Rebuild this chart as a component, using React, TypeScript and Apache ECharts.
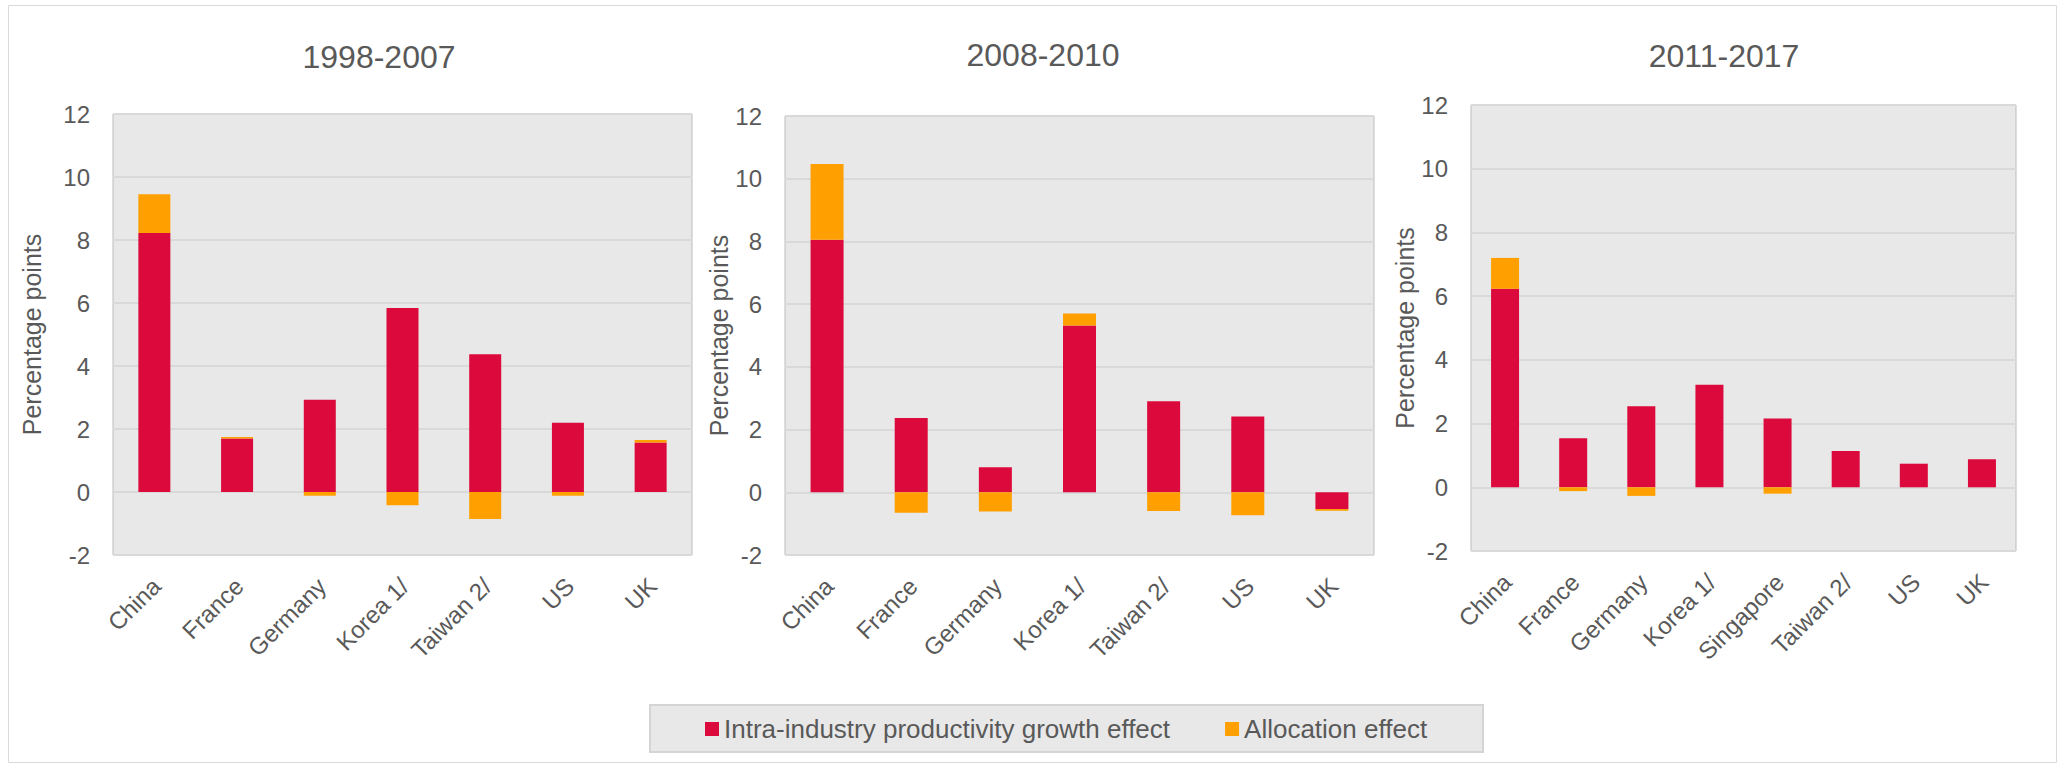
import React, { useEffect, useRef } from "react";
import * as echarts from "echarts";

const periods = ["1998-2007", "2008-2010", "2011-2017"];
const legendNames = ["Intra-industry productivity growth effect", "Allocation effect"];

const categories1 = ["China", "France", "Germany", "Korea 1/", "Taiwan 2/", "US", "UK"];
const intra1 = [8.22, 1.7, 2.93, 5.84, 4.37, 2.2, 1.57];
const alloc1 = [1.23, 0.05, -0.12, -0.42, -0.86, -0.12, 0.08];

const categories2 = ["China", "France", "Germany", "Korea 1/", "Taiwan 2/", "US", "UK"];
const intra2 = [8.05, 2.37, 0.8, 5.32, 2.9, 2.42, -0.53];
const alloc2 = [2.42, -0.65, -0.61, 0.38, -0.6, -0.73, -0.06];

const categories3 = ["China", "France", "Germany", "Korea 1/", "Singapore", "Taiwan 2/", "US", "UK"];
const intra3 = [6.23, 1.54, 2.54, 3.22, 2.16, 1.14, 0.74, 0.88];
const alloc3 = [0.97, -0.12, -0.27, 0, -0.2, 0, 0, 0];

const yMin = -2;
const yMax = 12;
const yInterval = 2;

const RED = "#DC0A3C";
const ORANGE = "#FFA000";
const TEXT = "#595959";
const FONT = "'Liberation Sans', Arial, sans-serif";

const panels = [
  { cats: categories1, intra: intra1, alloc: alloc1, left: 113, top: 114, width: 579, height: 441, tx: 379, ty: 57, nameGap: 69, barWidth: 32 },
  { cats: categories2, intra: intra2, alloc: alloc2, left: 785, top: 116, width: 589, height: 439, tx: 1043, ty: 55, nameGap: 51, barWidth: 33 },
  { cats: categories3, intra: intra3, alloc: alloc3, left: 1471, top: 105, width: 545, height: 446, tx: 1724, ty: 56, nameGap: 53, barWidth: 28 },
];

const LABEL_SHIFT = 2;

export default function App() {
  const ref = useRef<HTMLDivElement>(null);
  useEffect(() => {
    const chart = echarts.init(ref.current as HTMLDivElement, null, { renderer: "svg" });
    const n = panels.length;
    const grid: any[] = panels.map((p) => ({
      left: p.left,
      top: p.top,
      width: p.width,
      height: p.height,
      show: true,
      backgroundColor: "#E8E8E8",
      borderColor: "#BDBDBD",
      borderWidth: 1,
      containLabel: false,
    }));
    panels.forEach((p) => {
      grid.push({
        left: p.left + LABEL_SHIFT,
        top: p.top,
        width: p.width,
        height: p.height,
        show: false,
        containLabel: false,
      });
    });
    const xAxis: any[] = panels.map((p, i) => ({
      type: "category",
      gridIndex: i,
      data: p.cats,
      axisLine: { show: false },
      axisTick: { show: false },
      splitLine: { show: false },
      axisLabel: { show: false },
    }));
    panels.forEach((p, i) => {
      xAxis.push({
        type: "category",
        gridIndex: n + i,
        data: p.cats,
        axisLine: { show: false },
        axisTick: { show: false },
        splitLine: { show: false },
        axisLabel: { rotate: 45, interval: 0, color: TEXT, fontSize: 24, fontFamily: FONT, margin: 27 },
      });
    });
    const yAxis: any[] = panels.map((p, i) => ({
      type: "value",
      gridIndex: i,
      min: yMin,
      max: yMax,
      interval: yInterval,
      name: "Percentage points",
      nameLocation: "middle",
      nameGap: p.nameGap,
      nameRotate: 90,
      nameTextStyle: { color: TEXT, fontSize: 25, fontFamily: FONT },
      axisLine: { show: false },
      axisTick: { show: false },
      axisLabel: { color: TEXT, fontSize: 24, fontFamily: FONT, margin: 23 },
      splitLine: { lineStyle: { color: "#D9D9D9", width: 2 } },
    }));
    panels.forEach((p, i) => {
      yAxis.push({
        type: "value",
        gridIndex: n + i,
        min: yMin,
        max: yMax,
        interval: yInterval,
        show: false,
      });
    });
    const series: any[] = [];
    panels.forEach((p, i) => {
      series.push({
        type: "bar",
        name: legendNames[0],
        xAxisIndex: i,
        yAxisIndex: i,
        stack: "s" + i,
        data: p.intra,
        barWidth: p.barWidth,
        itemStyle: { color: RED },
      });
      series.push({
        type: "bar",
        name: legendNames[1],
        xAxisIndex: i,
        yAxisIndex: i,
        stack: "s" + i,
        data: p.alloc,
        barWidth: p.barWidth,
        itemStyle: { color: ORANGE },
      });
    });
    const graphic: any[] = [
      {
        type: "rect",
        z: -10,
        shape: { x: 8.5, y: 5.5, width: 2048, height: 757 },
        style: { fill: "rgba(0,0,0,0)", stroke: "#D9D9D9", lineWidth: 1 },
      },
      {
        type: "rect",
        z: -5,
        shape: { x: 650, y: 705, width: 833, height: 47 },
        style: { fill: "#E8E8E8", stroke: "#D4D4D4", lineWidth: 2 },
      },
    ];
    panels.forEach((p, i) => {
      graphic.push({
        type: "text",
        x: p.tx,
        y: p.ty,
        style: {
          text: periods[i],
          fill: TEXT,
          font: `32px ${FONT}`,
          align: "center",
          verticalAlign: "middle",
          textAlign: "center",
          textVerticalAlign: "middle",
        },
      });
    });
    chart.setOption({
      animation: false,
      backgroundColor: "#FFFFFF",
      textStyle: { fontFamily: FONT },
      grid,
      xAxis,
      yAxis,
      series,
      graphic,
      legend: {
        data: legendNames.map((nm) => ({ name: nm, icon: "rect" })),
        left: 705,
        top: 714,
        padding: 0,
        itemWidth: 14,
        itemHeight: 14,
        itemGap: 55,
        textStyle: { color: TEXT, fontSize: 26, fontFamily: FONT, lineHeight: 30 },
        selectedMode: false,
      },
    });
    return () => chart.dispose();
  }, []);
  return (
    <div
      ref={ref}
      style={{ position: "absolute", left: 0, top: 0, width: 2063, height: 769, background: "#fff" }}
    />
  );
}
